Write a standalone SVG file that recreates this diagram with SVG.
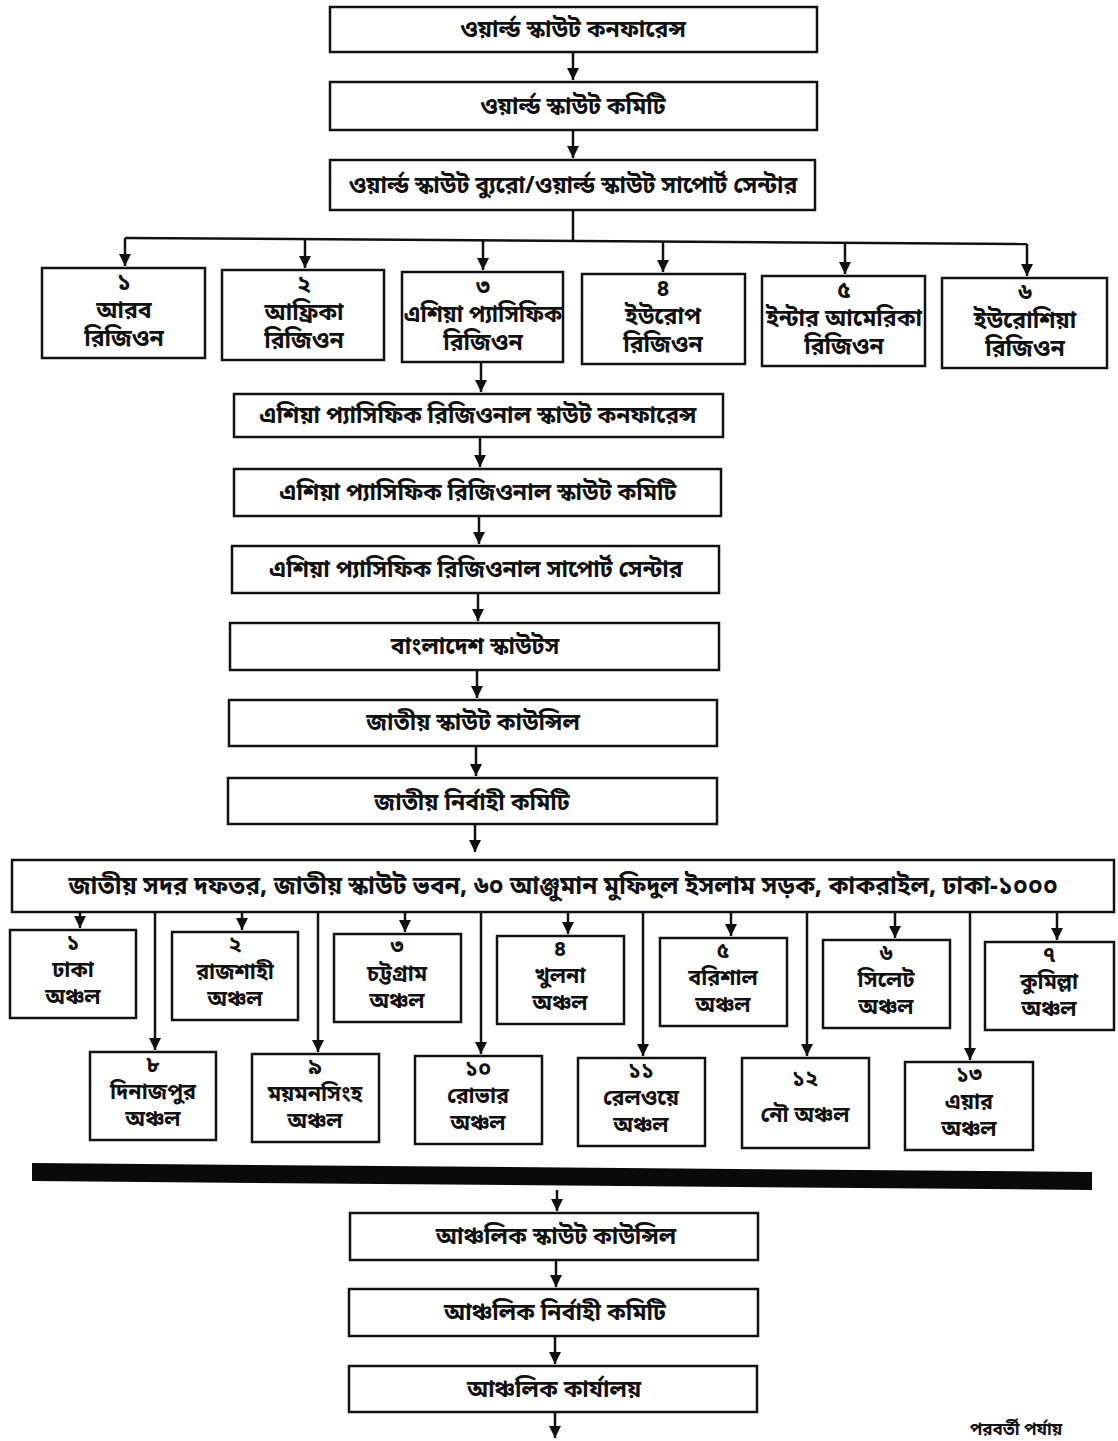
<svg xmlns="http://www.w3.org/2000/svg" width="1118" height="1441" viewBox="0 0 1118 1441">
<style>
.b{fill:#fff;stroke:#111;stroke-width:2.5}
.t{font-family:"Noto Sans Bengali","Noto Sans","Liberation Sans",sans-serif;font-weight:bold;font-size:23px;fill:#111;text-anchor:middle}
.s{font-size:23px}
.z{font-size:21.5px}
.c{stroke:#111;stroke-width:2.5;fill:none}
</style>
<defs>
<marker id="a" viewBox="0 0 10 10" refX="10" refY="5" markerWidth="5" markerHeight="5" orient="auto"><path d="M0,0L10,5L0,10z" fill="#111"/></marker>
</defs>
<rect width="1118" height="1441" fill="#fff"/>
<g id="connectors">
<path class="c" d="M573,52V80" marker-end="url(#a)"/>
<path class="c" d="M573,130V158" marker-end="url(#a)"/>
<path class="c" d="M573,210V240"/>
<path class="c" d="M125,238L1027,244"/>
<path class="c" d="M125,238V266" marker-end="url(#a)"/>
<path class="c" d="M305,239V268" marker-end="url(#a)"/>
<path class="c" d="M483,240V270" marker-end="url(#a)"/>
<path class="c" d="M663,241V272" marker-end="url(#a)"/>
<path class="c" d="M845,243V274" marker-end="url(#a)"/>
<path class="c" d="M1027,244V276" marker-end="url(#a)"/>
<path class="c" d="M481,362V392" marker-end="url(#a)"/>
<path class="c" d="M480,437V467" marker-end="url(#a)"/>
<path class="c" d="M479,516V544" marker-end="url(#a)"/>
<path class="c" d="M478,593V621" marker-end="url(#a)"/>
<path class="c" d="M477,670V698" marker-end="url(#a)"/>
<path class="c" d="M476,746V776" marker-end="url(#a)"/>
<path class="c" d="M475,824V852" marker-end="url(#a)"/>
<path class="c" d="M80,912V928" marker-end="url(#a)"/>
<path class="c" d="M242,912V930" marker-end="url(#a)"/>
<path class="c" d="M405,912V932" marker-end="url(#a)"/>
<path class="c" d="M568,912V934" marker-end="url(#a)"/>
<path class="c" d="M731,912V936" marker-end="url(#a)"/>
<path class="c" d="M895,912V938" marker-end="url(#a)"/>
<path class="c" d="M1057,912V940" marker-end="url(#a)"/>
<path class="c" d="M155,912V1050" marker-end="url(#a)"/>
<path class="c" d="M318,912V1052" marker-end="url(#a)"/>
<path class="c" d="M481,912V1054" marker-end="url(#a)"/>
<path class="c" d="M643,912V1056" marker-end="url(#a)"/>
<path class="c" d="M807,912V1056" marker-end="url(#a)"/>
<path class="c" d="M970,912V1060" marker-end="url(#a)"/>
<path class="c" d="M557,1190V1211" marker-end="url(#a)"/>
<path class="c" d="M556,1260V1287" marker-end="url(#a)"/>
<path class="c" d="M555,1336V1364" marker-end="url(#a)"/>
<path class="c" d="M555,1412V1438" marker-end="url(#a)"/>
</g>
<polygon points="32,1163 1092,1172 1092,1190 32,1181" fill="#0a0a0a"/>
<g id="n1"><rect class="b" x="330" y="7" width="487" height="45"/><text class="t" x="573" y="37">ওয়ার্ল্ড স্কাউট কনফারেন্স</text></g>
<g id="n2"><rect class="b" x="330" y="82" width="487" height="48"/><text class="t" x="573" y="114">ওয়ার্ল্ড স্কাউট কমিটি</text></g>
<g id="n3"><rect class="b" x="330" y="160" width="485" height="50"/><text class="t" x="573" y="193">ওয়ার্ল্ড স্কাউট ব্যুরো/ওয়ার্ল্ড স্কাউট সাপোর্ট সেন্টার</text></g>
<g id="r1"><rect class="b" x="42" y="268" width="163" height="90"/><text class="t s" x="124" y="290">১</text><text class="t s" x="124" y="318">আরব</text><text class="t s" x="124" y="346">রিজিওন</text></g>
<g id="r2"><rect class="b" x="222" y="270" width="162" height="90"/><text class="t s" x="304" y="292">২</text><text class="t s" x="304" y="320">আফ্রিকা</text><text class="t s" x="304" y="348">রিজিওন</text></g>
<g id="r3"><rect class="b" x="402" y="272" width="161" height="90"/><text class="t s" x="483" y="294">৩</text><text class="t s" x="483" y="322" textLength="158" lengthAdjust="spacingAndGlyphs">এশিয়া প্যাসিফিক</text><text class="t s" x="483" y="350">রিজিওন</text></g>
<g id="r4"><rect class="b" x="582" y="274" width="163" height="90"/><text class="t s" x="663" y="296">৪</text><text class="t s" x="663" y="324">ইউরোপ</text><text class="t s" x="663" y="352">রিজিওন</text></g>
<g id="r5"><rect class="b" x="762" y="276" width="163" height="90"/><text class="t s" x="844" y="298">৫</text><text class="t s" x="844" y="326" textLength="156" lengthAdjust="spacingAndGlyphs">ইন্টার আমেরিকা</text><text class="t s" x="844" y="354">রিজিওন</text></g>
<g id="r6"><rect class="b" x="942" y="278" width="165" height="90"/><text class="t s" x="1025" y="300">৬</text><text class="t s" x="1025" y="328">ইউরোশিয়া</text><text class="t s" x="1025" y="356">রিজিওন</text></g>
<g id="ap1"><rect class="b" x="234" y="394" width="489" height="43"/><text class="t" x="478" y="423">এশিয়া প্যাসিফিক রিজিওনাল স্কাউট কনফারেন্স</text></g>
<g id="ap2"><rect class="b" x="234" y="469" width="487" height="47"/><text class="t" x="478" y="500">এশিয়া প্যাসিফিক রিজিওনাল স্কাউট কমিটি</text></g>
<g id="ap3"><rect class="b" x="232" y="546" width="487" height="47"/><text class="t" x="476" y="577">এশিয়া প্যাসিফিক রিজিওনাল সাপোর্ট সেন্টার</text></g>
<g id="bd"><rect class="b" x="230" y="623" width="489" height="47"/><text class="t" x="475" y="654">বাংলাদেশ স্কাউটস</text></g>
<g id="jsc"><rect class="b" x="229" y="700" width="488" height="46"/><text class="t" x="473" y="730">জাতীয় স্কাউট কাউন্সিল</text></g>
<g id="jnc"><rect class="b" x="228" y="778" width="489" height="46"/><text class="t" x="472" y="810">জাতীয় নির্বাহী কমিটি</text></g>
<g id="hq"><rect class="b" x="12" y="860" width="1102" height="52"/><text class="t" x="563" y="894" style="font-size:24.5px">জাতীয় সদর দফতর, জাতীয় স্কাউট ভবন, ৬০ আঞ্জুমান মুফিদুল ইসলাম সড়ক, কাকরাইল, ঢাকা-১০০০</text></g>
<g id="z1"><rect class="b" x="10" y="930" width="126" height="88"/><text class="t z" x="73" y="950">১</text><text class="t z" x="73" y="977">ঢাকা</text><text class="t z" x="73" y="1004">অঞ্চল</text></g>
<g id="z2"><rect class="b" x="172" y="932" width="126" height="88"/><text class="t z" x="235" y="952">২</text><text class="t z" x="235" y="979">রাজশাহী</text><text class="t z" x="235" y="1006">অঞ্চল</text></g>
<g id="z3"><rect class="b" x="334" y="934" width="127" height="88"/><text class="t z" x="397" y="954">৩</text><text class="t z" x="397" y="981">চট্টগ্রাম</text><text class="t z" x="397" y="1008">অঞ্চল</text></g>
<g id="z4"><rect class="b" x="497" y="936" width="127" height="88"/><text class="t z" x="560" y="956">৪</text><text class="t z" x="560" y="983">খুলনা</text><text class="t z" x="560" y="1010">অঞ্চল</text></g>
<g id="z5"><rect class="b" x="660" y="938" width="127" height="88"/><text class="t z" x="723" y="958">৫</text><text class="t z" x="723" y="985">বরিশাল</text><text class="t z" x="723" y="1012">অঞ্চল</text></g>
<g id="z6"><rect class="b" x="823" y="940" width="127" height="88"/><text class="t z" x="886" y="960">৬</text><text class="t z" x="886" y="987">সিলেট</text><text class="t z" x="886" y="1014">অঞ্চল</text></g>
<g id="z7"><rect class="b" x="985" y="942" width="129" height="88"/><text class="t z" x="1049" y="962">৭</text><text class="t z" x="1049" y="989">কুমিল্লা</text><text class="t z" x="1049" y="1016">অঞ্চল</text></g>
<g id="z8"><rect class="b" x="90" y="1052" width="126" height="88"/><text class="t z" x="153" y="1072">৮</text><text class="t z" x="153" y="1099">দিনাজপুর</text><text class="t z" x="153" y="1126">অঞ্চল</text></g>
<g id="z9"><rect class="b" x="252" y="1054" width="127" height="88"/><text class="t z" x="315" y="1074">৯</text><text class="t z" x="315" y="1101">ময়মনসিংহ</text><text class="t z" x="315" y="1128">অঞ্চল</text></g>
<g id="z10"><rect class="b" x="415" y="1056" width="127" height="88"/><text class="t z" x="478" y="1076">১০</text><text class="t z" x="478" y="1103">রোভার</text><text class="t z" x="478" y="1130">অঞ্চল</text></g>
<g id="z11"><rect class="b" x="578" y="1058" width="127" height="88"/><text class="t z" x="641" y="1078">১১</text><text class="t z" x="641" y="1105">রেলওয়ে</text><text class="t z" x="641" y="1132">অঞ্চল</text></g>
<g id="z12"><rect class="b" x="742" y="1058" width="127" height="90"/><text class="t z" x="805" y="1086">১২</text><text class="t z" x="805" y="1122">নৌ অঞ্চল</text></g>
<g id="z13"><rect class="b" x="905" y="1062" width="128" height="88"/><text class="t z" x="969" y="1082">১৩</text><text class="t z" x="969" y="1109">এয়ার</text><text class="t z" x="969" y="1136">অঞ্চল</text></g>
<g id="rsc"><rect class="b" x="350" y="1213" width="408" height="47"/><text class="t" x="556" y="1244">আঞ্চলিক স্কাউট কাউন্সিল</text></g>
<g id="rnc"><rect class="b" x="349" y="1289" width="409" height="47"/><text class="t" x="555" y="1320">আঞ্চলিক নির্বাহী কমিটি</text></g>
<g id="ro"><rect class="b" x="349" y="1366" width="408" height="46"/><text class="t" x="554" y="1397">আঞ্চলিক কার্যালয়</text></g>
<text class="t" x="1016" y="1435" style="font-size:17px">পরবর্তী পর্যায়</text>
</svg>
